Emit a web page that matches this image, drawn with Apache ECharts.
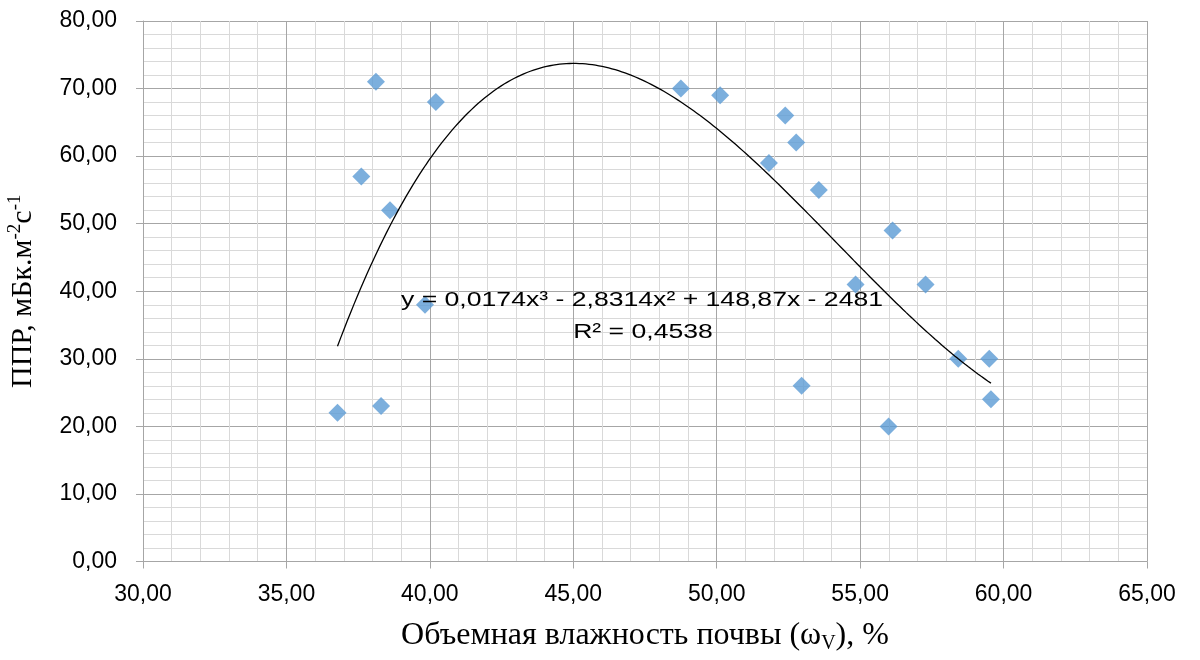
<!DOCTYPE html>
<html>
<head>
<meta charset="utf-8">
<script src="https://cdn.jsdelivr.net/npm/echarts@6/dist/echarts.min.js"></script>
<style>
  html, body { margin: 0; padding: 0; background: #fff; }
  #chart { width: 1200px; height: 660px; }
</style>
</head>
<body>
<div id="chart"></div>
<script>
// Soil volumetric moisture (%) vs. radon flux density
const moisture = [36.78, 37.61, 38.12, 38.30, 38.61, 39.83, 40.21, 48.75, 50.12, 51.82, 52.39,
                  52.77, 52.96, 53.56, 54.84, 55.99, 56.13, 57.28, 58.42, 59.50, 59.56];
const flux = [22, 57, 71, 23, 52, 38, 68, 70, 69, 59, 66,
              62, 26, 55, 41, 20, 49, 41, 30, 30, 24];

const xTicks = { min: 30, max: 65, step: 5 };
const yTicks = { min: 0, max: 80, step: 10 };

// Trendline caption
const trendEquation = 'y = 0,0174x³ - 2,8314x² + 148,87x - 2481';
const trendR2 = 'R² = 0,4538';

// Least-squares cubic trend (x centred for numerical stability)
function cubicFit(xs, ys) {
  const n = xs.length;
  const mx = xs.reduce((a, b) => a + b, 0) / n;
  const m = 4;
  const A = Array.from({ length: m }, () => new Array(m + 1).fill(0));
  for (let k = 0; k < n; k++) {
    const t = xs[k] - mx;
    const p = [1, t, t * t, t * t * t];
    for (let i = 0; i < m; i++) {
      for (let j = 0; j < m; j++) A[i][j] += p[i] * p[j];
      A[i][m] += p[i] * ys[k];
    }
  }
  for (let c = 0; c < m; c++) {
    let piv = c;
    for (let r = c + 1; r < m; r++) if (Math.abs(A[r][c]) > Math.abs(A[piv][c])) piv = r;
    [A[c], A[piv]] = [A[piv], A[c]];
    for (let r = 0; r < m; r++) {
      if (r === c) continue;
      const f = A[r][c] / A[c][c];
      for (let j = c; j <= m; j++) A[r][j] -= f * A[c][j];
    }
  }
  const b = A.map((row, i) => row[m] / row[i]);
  return x => { const t = x - mx; return b[0] + b[1] * t + b[2] * t * t + b[3] * t * t * t; };
}

const trendFn = cubicFit(moisture, flux);
const xLo = Math.min(...moisture), xHi = Math.max(...moisture);
const trend = [];
for (let i = 0; i <= 200; i++) {
  const x = xLo + (xHi - xLo) * i / 200;
  trend.push([x, trendFn(x)]);
}

const comma = (v, d) => v.toFixed(d).replace('.', ',');

const chart = echarts.init(document.getElementById('chart'), null, { renderer: 'canvas' });

const tickFont = { fontFamily: 'Liberation Sans, Arial, sans-serif', fontSize: 23, color: '#000' };
const serif = 'Liberation Serif, Times New Roman, serif';
const captionFont = '20px "Liberation Sans", Arial, sans-serif';

chart.setOption({
  animation: false,
  backgroundColor: '#fff',
  grid: { left: 143, right: 53, top: 21, bottom: 98.5, outerBoundsMode: 'none', containLabel: false },
  xAxis: {
    type: 'value',
    min: xTicks.min, max: xTicks.max, interval: xTicks.step,
    name: '{t|Объемная влажность почвы (ω}{sub|V}{t|), %}',
    nameLocation: 'middle',
    nameGap: 56,
    nameTextStyle: {
      rich: {
        t: { fontFamily: serif, fontSize: 32, color: '#000' },
        sub: { fontFamily: serif, fontSize: 20, color: '#000', padding: [16, 0, 0, 0] }
      }
    },
    axisLine: { show: true, onZero: false, lineStyle: { color: '#a6a6a6', width: 1 } },
    axisTick: { show: true, length: 7, lineStyle: { color: '#a6a6a6' } },
    axisLabel: Object.assign({ margin: 22, formatter: v => comma(v, 2) }, tickFont),
    splitLine: { show: true, lineStyle: { color: '#a6a6a6', width: 1 } },
    minorTick: { show: false, splitNumber: 5 },
    minorSplitLine: { show: true, lineStyle: { color: '#d9d9d9', width: 1 } }
  },
  yAxis: {
    type: 'value',
    min: yTicks.min, max: yTicks.max, interval: yTicks.step,
    name: '{t|ППР, мБк.м}{sup|-2}{t|с}{sup|-1}',
    nameLocation: 'middle',
    nameRotate: 90,
    nameGap: 102,
    nameTextStyle: {
      rich: {
        t: { fontFamily: serif, fontSize: 30, color: '#000' },
        sup: { fontFamily: serif, fontSize: 19, color: '#000', padding: [0, 0, 16, 0] }
      }
    },
    axisLine: { show: true, onZero: false, lineStyle: { color: '#a6a6a6', width: 1 } },
    axisTick: { show: true, length: 7, lineStyle: { color: '#a6a6a6' } },
    axisLabel: Object.assign({ margin: 26, formatter: v => comma(v, 2) }, tickFont),
    splitLine: { show: true, lineStyle: { color: '#a6a6a6', width: 1 } },
    minorTick: { show: false, splitNumber: 5 },
    minorSplitLine: { show: true, lineStyle: { color: '#d9d9d9', width: 1 } }
  },
  series: [
    {
      type: 'scatter',
      data: moisture.map((x, i) => [x, flux[i]]),
      symbol: 'diamond',
      symbolSize: 18,
      itemStyle: { color: '#5b9bd5' },
      z: 3
    },
    {
      type: 'line',
      data: trend,
      showSymbol: false,
      smooth: false,
      lineStyle: { color: '#000', width: 1.3 },
      z: 4
    }
  ],
  graphic: [
    {
      type: 'text',
      x: 642, y: 300,
      scaleX: 1.33,
      style: {
        text: trendEquation,
        align: 'center', verticalAlign: 'middle',
        font: captionFont,
        fill: '#000'
      },
      z: 10
    },
    {
      type: 'text',
      x: 643, y: 332,
      scaleX: 1.33,
      style: {
        text: trendR2,
        align: 'center', verticalAlign: 'middle',
        font: captionFont,
        fill: '#000'
      },
      z: 10
    }
  ]
});
</script>
</body>
</html>
